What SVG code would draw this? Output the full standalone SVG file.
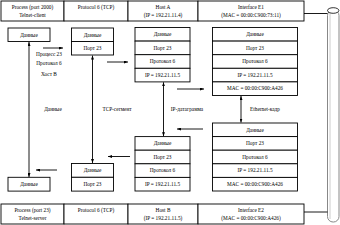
<svg xmlns="http://www.w3.org/2000/svg" width="340" height="225" viewBox="0 0 340 225">
<defs>
<style>
text{font-family:"Liberation Serif","Times New Roman",serif;font-size:5.3px;fill:#000;text-anchor:middle}
.b{fill:#fff;stroke:#000;stroke-width:0.9}
.l{stroke:#000;stroke-width:0.9;fill:none}
.c{stroke:#000;stroke-width:0.9;fill:none}
</style>
<marker id="ah" viewBox="0 0 8 6" refX="8" refY="3" markerWidth="4" markerHeight="3" orient="auto-start-reverse" markerUnits="userSpaceOnUse">
<path d="M0,0L8,3L0,6z" fill="#000"/>
</marker>
</defs>
<rect width="340" height="225" fill="#fff"/>

<g id="cable">
<rect x="327.5" y="10" width="11.5" height="212" rx="5.5" fill="#fff" stroke="#888" stroke-width="1"/>
<line x1="330" y1="13" x2="330" y2="219" stroke="#ccc" stroke-width="1"/>
<ellipse cx="333.2" cy="10.5" rx="5.7" ry="2.8" fill="#fff" stroke="#000" stroke-width="0.8"/>
</g>

<g id="hostA-table">
<rect class="b" x="1" y="1" width="63" height="20"/>
<rect class="b" x="64" y="1" width="64" height="20"/>
<rect class="b" x="128" y="1" width="70" height="20"/>
<rect class="b" x="198" y="1" width="106" height="20"/>
<text x="32.5" y="8.5">Process (port 2000)</text>
<text x="32.5" y="16.5">Telnet-client</text>
<text x="96" y="8.5">Protocol 6 (TCP)</text>
<text x="163" y="8.5">Host A</text>
<text x="163" y="16.5">(IP = 192.21.11.4)</text>
<text x="251" y="8.5">Interface E1</text>
<text x="251" y="16.5">(MAC = 00:00:C900:73:11)</text>
</g>

<g id="hostB-table">
<rect class="b" x="1" y="204" width="63" height="20"/>
<rect class="b" x="64" y="204" width="64" height="20"/>
<rect class="b" x="128" y="204" width="70" height="20"/>
<rect class="b" x="198" y="204" width="106" height="20"/>
<text x="32.5" y="211.5">Process (port 23)</text>
<text x="32.5" y="219.5">Telnet-server</text>
<text x="96" y="211.5">Protocol 6 (TCP)</text>
<text x="163" y="211.5">Host B</text>
<text x="163" y="219.5">(IP = 192.21.11.5)</text>
<text x="251" y="211.5">Interface E2</text>
<text x="251" y="219.5">(MAC = 00:00:C900:A426)</text>
</g>

<g id="data-top">
<rect class="b" x="8" y="28" width="42" height="13.5"/>
<text x="29" y="36.5">Данные</text>
</g>
<g id="seg-top">
<rect class="b" x="71.5" y="28" width="42" height="13.5"/>
<rect class="b" x="71.5" y="41.5" width="42" height="13.5"/>
<text x="92.5" y="36.5">Данные</text>
<text x="92.5" y="50">Порт 23</text>
</g>
<g id="ip-top">
<rect class="b" x="135" y="27.5" width="55" height="13.6"/>
<rect class="b" x="135" y="41.1" width="55" height="13.6"/>
<rect class="b" x="135" y="54.7" width="55" height="13.6"/>
<rect class="b" x="135" y="68.3" width="55" height="13.6"/>
<text x="162.5" y="36">Данные</text>
<text x="162.5" y="49.6">Порт 23</text>
<text x="162.5" y="63.2">Протокол 6</text>
<text x="162.5" y="76.8">IP = 192.21.11.5</text>
</g>
<g id="eth-top">
<rect class="b" x="212.5" y="27.5" width="85" height="13.6"/>
<rect class="b" x="212.5" y="41.1" width="85" height="13.6"/>
<rect class="b" x="212.5" y="54.7" width="85" height="13.6"/>
<rect class="b" x="212.5" y="68.3" width="85" height="13.6"/>
<rect class="b" x="212.5" y="81.9" width="85" height="13.6"/>
<text x="255" y="36">Данные</text>
<text x="255" y="49.6">Порт 23</text>
<text x="255" y="63.2">Протокол 6</text>
<text x="255" y="76.8">IP = 192.21.11.5</text>
<text x="255" y="90.4">MAC = 00:00:C900:A426</text>
</g>

<g id="eth-bottom">
<rect class="b" x="212.5" y="123" width="85" height="13.6"/>
<rect class="b" x="212.5" y="136.6" width="85" height="13.6"/>
<rect class="b" x="212.5" y="150.2" width="85" height="13.6"/>
<rect class="b" x="212.5" y="163.8" width="85" height="13.6"/>
<rect class="b" x="212.5" y="177.4" width="85" height="13.6"/>
<text x="255" y="131.5">Данные</text>
<text x="255" y="145.1">Порт 23</text>
<text x="255" y="158.7">Протокол 6</text>
<text x="255" y="172.3">IP = 192.21.11.5</text>
<text x="255" y="185.9">MAC = 00:00:C900:A426</text>
</g>
<g id="ip-bottom">
<rect class="b" x="135" y="136.6" width="55" height="13.6"/>
<rect class="b" x="135" y="150.2" width="55" height="13.6"/>
<rect class="b" x="135" y="163.8" width="55" height="13.6"/>
<rect class="b" x="135" y="177.4" width="55" height="13.6"/>
<text x="162.5" y="145.1">Данные</text>
<text x="162.5" y="158.7">Порт 23</text>
<text x="162.5" y="172.3">Протокол 6</text>
<text x="162.5" y="185.9">IP = 192.21.11.5</text>
</g>
<g id="seg-bottom">
<rect class="b" x="71.5" y="163.5" width="42" height="13.8"/>
<rect class="b" x="71.5" y="177.3" width="42" height="13.8"/>
<text x="92.5" y="172.2">Данные</text>
<text x="92.5" y="186">Порт 23</text>
</g>
<g id="data-bottom">
<rect class="b" x="8" y="177.3" width="42" height="13.8"/>
<text x="29" y="186">Данные</text>
</g>

<g id="labels">
<text x="49" y="55.5">Процесс 23</text>
<text x="49" y="64.5">Протокол 6</text>
<text x="49" y="75.5">Хост B</text>
<text x="53" y="110.5">Данные</text>
<text x="117" y="110.5">TCP-сегмент</text>
<text x="187" y="110.5">IP-датаграмма</text>
<text x="265" y="110.5">Ethernet-кадр</text>
</g>

<g id="connectors">
<line class="c" x1="304" y1="13.5" x2="327.5" y2="13.5"/>
<line class="c" x1="304" y1="212" x2="327.5" y2="212"/>
<line class="l" x1="29" y1="42" x2="29" y2="177" marker-start="url(#ah)" marker-end="url(#ah)"/>
<line class="l" x1="92.5" y1="55.5" x2="92.5" y2="163" marker-start="url(#ah)" marker-end="url(#ah)"/>
<line class="l" x1="163.5" y1="82.3" x2="163.5" y2="136.2" marker-start="url(#ah)" marker-end="url(#ah)"/>
<line class="l" x1="241" y1="96" x2="241" y2="122.5" marker-start="url(#ah)" marker-end="url(#ah)"/>
<line class="l" x1="43" y1="48" x2="63" y2="48" marker-end="url(#ah)"/>
<line class="l" x1="107" y1="62" x2="128" y2="62" marker-end="url(#ah)"/>
<line class="l" x1="177" y1="89" x2="204" y2="89" marker-end="url(#ah)"/>
<line class="l" x1="203" y1="129" x2="177" y2="129" marker-end="url(#ah)"/>
<line class="l" x1="130" y1="156.5" x2="108" y2="156.5" marker-end="url(#ah)"/>
<line class="l" x1="57" y1="170" x2="36" y2="170" marker-end="url(#ah)"/>
</g>
</svg>
